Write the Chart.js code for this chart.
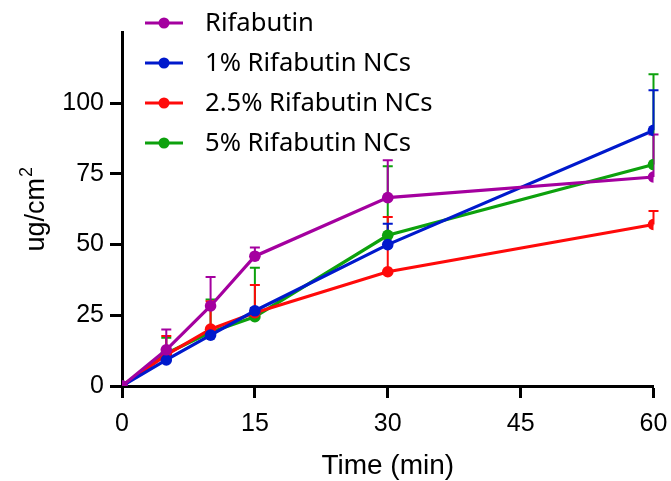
<!DOCTYPE html>
<html>
<head>
<meta charset="utf-8">
<script src="https://cdn.jsdelivr.net/npm/chart.js@4"></script>
<style>
  html, body { margin: 0; padding: 0; background: #fff; }
  #wrap { width: 671px; height: 481px; position: relative; }
</style>
</head>
<body>
<div id="wrap"><canvas id="c" width="671" height="481"></canvas></div>
<script>
// ---- data ----
const times = [0, 5, 10, 15, 30, 60];
const seriesLabels = ['Rifabutin', '1% Rifabutin NCs', '2.5% Rifabutin NCs', '5% Rifabutin NCs'];
const rifabutin = [0, 12.8, 28.3, 45.9, 66.6, 73.9];
const rifabutinErr = [0, 7.2, 10.2, 3.1, 13.2, 15.0];
const nc1 = [0, 9.2, 18.0, 26.6, 50.0, 90.4];
const nc1Err = [0, 1.0, 1.0, 1.0, 7.4, 14.2];
const nc25 = [0, 11.0, 20.1, 25.9, 40.4, 57.1];
const nc25Err = [0, 6.7, 9.9, 9.8, 19.4, 4.8];
const nc5 = [0, 11.5, 19.0, 24.5, 53.3, 78.3];
const nc5Err = [0, 5.6, 11.6, 17.3, 24.4, 31.9];
const xTicks = [0, 15, 30, 45, 60];
const yTicks = [0, 25, 50, 75, 100];
const xTitle = 'Time (min)';
const yTitleBase = 'ug/cm';
const yTitleSup = '2';

const colors = ['#A4009F', '#0019CC', '#FF0A0A', '#0DA10D'];
const values = [rifabutin, nc1, nc25, nc5];
const errors = [rifabutinErr, nc1Err, nc25Err, nc5Err];

const tickFamily = '"Liberation Sans", sans-serif';

const datasets = values.map((v, i) => ({
  label: seriesLabels[i],
  data: v.map((y, j) => ({ x: times[j], y: y })),
  err: errors[i],
  borderColor: colors[i],
  backgroundColor: colors[i],
  borderWidth: 3.2,
  pointRadius: 5.8,
  pointBorderWidth: 0,
  pointHoverRadius: 5.8,
  tension: 0
}));

const errorBars = {
  id: 'errorBars',
  beforeDatasetsDraw(chart) {
    const ctx = chart.ctx;
    const xs = chart.scales.x, ys = chart.scales.y;
    ctx.save();
    for (let i = chart.data.datasets.length - 1; i >= 0; i--) {
      const ds = chart.data.datasets[i];
      ctx.strokeStyle = ds.borderColor;
      ctx.lineWidth = 2;
      ds.data.forEach((p, j) => {
        const e = ds.err[j];
        if (!e) return;
        const px = xs.getPixelForValue(p.x);
        const py = ys.getPixelForValue(p.y);
        const pt = ys.getPixelForValue(p.y + e);
        ctx.beginPath();
        ctx.moveTo(px, py);
        ctx.lineTo(px, pt);
        ctx.moveTo(px - 5, pt);
        ctx.lineTo(px + 5, pt);
        ctx.stroke();
      });
    }
    ctx.restore();
  }
};

const customLegend = {
  id: 'customLegend',
  afterDraw(chart) {
    const ctx = chart.ctx;
    ctx.save();
    ctx.font = '25.6px "Noto Sans"';
    ctx.textBaseline = 'middle';
    ctx.textAlign = 'left';
    chart.data.datasets.forEach((ds, i) => {
      const y = 23 + i * 40;
      ctx.strokeStyle = ds.borderColor;
      ctx.fillStyle = ds.borderColor;
      ctx.lineWidth = 3.2;
      ctx.beginPath();
      ctx.moveTo(145, y);
      ctx.lineTo(183, y);
      ctx.stroke();
      ctx.beginPath();
      ctx.arc(164, y, 5.5, 0, Math.PI * 2);
      ctx.fill();
      ctx.fillStyle = '#000';
      ctx.fillText(ds.label, 205, y + 1);
    });
    ctx.restore();
  }
};

const yTitlePlugin = {
  id: 'yTitlePlugin',
  afterDraw(chart) {
    const ctx = chart.ctx;
    const area = chart.chartArea;
    ctx.save();
    const baseFont = '27px "Liberation Sans"';
    const supFont = '18px "Liberation Sans"';
    ctx.font = baseFont;
    const wb = ctx.measureText(yTitleBase).width;
    ctx.font = supFont;
    const ws = ctx.measureText(yTitleSup).width;
    const total = wb + ws + 1;
    const cy = (area.top + area.bottom) / 2;
    ctx.translate(44, cy);
    ctx.rotate(-Math.PI / 2);
    ctx.fillStyle = '#000';
    ctx.textBaseline = 'alphabetic';
    ctx.textAlign = 'left';
    ctx.font = baseFont;
    ctx.fillText(yTitleBase, -total / 2, 0);
    ctx.font = supFont;
    ctx.fillText(yTitleSup, -total / 2 + wb + 1, -12);
    ctx.restore();
  }
};

new Chart(document.getElementById('c'), {
  type: 'line',
  data: { datasets: datasets },
  options: {
    responsive: false,
    animation: false,
    layout: { padding: { left: 0, right: 17.5, top: 32.5, bottom: 0 } },
    plugins: { legend: { display: false }, tooltip: { enabled: false } },
    scales: {
      x: {
        type: 'linear',
        min: 0, max: 60,
        afterBuildTicks(s) { s.ticks = xTicks.map(v => ({ value: v })); },
        afterFit(s) { s.height = 95; s.paddingLeft = 0; s.paddingRight = 0; },
        grid: { display: true, drawOnChartArea: false, drawTicks: true, tickLength: 12, tickWidth: 3, tickColor: '#000' },
        border: { display: true, width: 3, color: '#000' },
        ticks: { color: '#000', padding: 11, font: { family: tickFamily, size: 25 } },
        title: { display: true, text: xTitle, color: '#000', padding: { top: 0, bottom: -2 }, font: { family: '"Liberation Sans"', size: 28 } }
      },
      y: {
        type: 'linear',
        min: 0, max: 125,
        afterBuildTicks(s) { s.ticks = yTicks.map(v => ({ value: v })); },
        afterFit(s) { s.width = 122; s.paddingTop = 0; s.paddingBottom = 0; },
        grid: { display: true, drawOnChartArea: false, drawTicks: true, tickLength: 12, tickWidth: 3, tickColor: '#000' },
        border: { display: true, width: 3, color: '#000' },
        ticks: { color: '#000', padding: 6, font: { family: tickFamily, size: 25 } },
        title: { display: false }
      }
    }
  },
  plugins: [errorBars, customLegend, yTitlePlugin]
});
</script>
</body>
</html>
